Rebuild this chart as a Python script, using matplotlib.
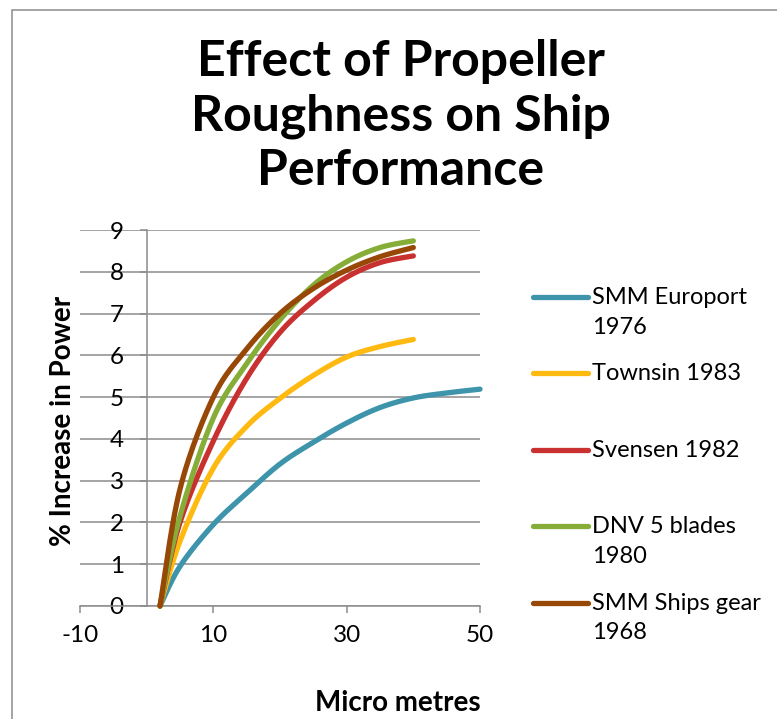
import numpy as np
import matplotlib
matplotlib.use("Agg")
import matplotlib.pyplot as plt
from matplotlib.patches import Rectangle
from matplotlib.legend_handler import HandlerLine2D

plt.rcParams['font.family'] = ['Lato', 'DejaVu Sans']

# Данные (микрометры, % прироста мощности)
x_short = [2, 5, 10, 15, 20, 25, 30, 35, 40]
x_long = [2, 5, 10, 15, 20, 25, 30, 35, 40, 45, 50]

europort = [0, 0.95, 1.95, 2.7, 3.4, 3.92, 4.38, 4.75, 4.98, 5.1, 5.19]
townsin = [0, 1.55, 3.3, 4.3, 4.97, 5.52, 5.96, 6.21, 6.38]
svensen = [0, 2.0, 3.95, 5.45, 6.55, 7.3, 7.87, 8.22, 8.38]
dnv = [0, 2.15, 4.5, 5.8, 6.85, 7.68, 8.24, 8.58, 8.74]
ships_gear = [0, 2.8, 5.0, 6.15, 7.0, 7.6, 8.04, 8.36, 8.58]

labels = ["SMM Europort\n1976", "Townsin 1983\n", "Svensen 1982\n",
          "DNV 5 blades\n1980", "SMM Ships gear\n1968"]
colors = ["#3D94AB", "#FFBA12", "#C8312F", "#86AD38", "#974706"]

x_ticks = [-10, 10, 30, 50]
y_ticks = list(range(10))


def smooth(xs, ys, n=25):
    # сглаживание как в Excel (кривые Безье через точки)
    p = np.column_stack([xs, ys]).astype(float)
    out = [p[0]]
    t = np.linspace(0, 1, n)[1:, None]
    for i in range(len(p) - 1):
        p0 = p[i - 1] if i > 0 else p[i]
        p1, p2 = p[i], p[i + 1]
        p3 = p[i + 2] if i + 2 < len(p) else p[i + 1]
        c1 = p1 + (p2 - p0) / 6
        c2 = p2 - (p3 - p1) / 6
        seg = ((1 - t) ** 3) * p1 + 3 * ((1 - t) ** 2) * t * c1 \
            + 3 * (1 - t) * t ** 2 * c2 + t ** 3 * p2
        out.extend(seg)
    out = np.array(out)
    return out[:, 0], out[:, 1]


class TopHandler(HandlerLine2D):
    # линия легенды на уровне первой строки подписи
    def create_artists(self, legend, orig_handle, xdescent, ydescent,
                       width, height, fontsize, trans):
        arts = super().create_artists(legend, orig_handle, xdescent, ydescent,
                                      width, height, fontsize, trans)
        for a in arts:
            a.set_ydata(np.asarray(a.get_ydata()) + 0.66 * fontsize)
        return arts


fig = plt.figure(figsize=(7.77, 7.19), dpi=100)
ax = fig.add_axes([80 / 777, 1 - 606 / 719, 400 / 777, 376 / 719])

gridc = "#8C8C8C"
series = [(x_long, europort), (x_short, townsin), (x_short, svensen),
          (x_short, dnv), (x_short, ships_gear)]
for (xs, ys), lab, c in zip(series, labels, colors):
    sx, sy = smooth(xs, ys)
    ax.plot(sx, sy, color=c, lw=3.8, label=lab, solid_capstyle='round',
            zorder=3, clip_on=False)

ax.set_xlim(-10, 50)
ax.set_ylim(0, 9)
ax.set_xticks(x_ticks)
ax.set_yticks(y_ticks)
ax.set_xticklabels([str(v) for v in x_ticks])
ax.set_yticklabels([str(v) for v in y_ticks])
ax.spines['left'].set_position(('data', 0))
ax.spines['top'].set_visible(False)
ax.spines['right'].set_visible(False)
for s in ['left', 'bottom']:
    ax.spines[s].set_color(gridc)
    ax.spines[s].set_linewidth(1.1)
ax.grid(axis='y', color=gridc, lw=1.1)
ax.set_axisbelow(True)
ax.tick_params(axis='both', direction='out', length=5, width=1.1,
               color=gridc, labelsize=17.5)
ax.tick_params(axis='y', pad=11.5)
ax.tick_params(axis='x', pad=9)

# Заголовок и подписи осей
fig.text(401 / 777, 1 - 116 / 719,
         "Effect of Propeller\nRoughness on Ship\nPerformance",
         ha='center', va='center', fontsize=36, fontweight='bold',
         linespacing=1.25)
fig.text(63 / 777, 1 - 421 / 719, "% Increase in Power", rotation=90,
         ha='center', va='center', fontsize=20, fontweight='bold')
fig.text(398 / 777, 1 - 703 / 719, "Micro metres",
         ha='center', va='center', fontsize=20, fontweight='bold')

leg = ax.legend(loc='upper left', bbox_to_anchor=(533 / 777, 1 - 287 / 719),
                bbox_transform=fig.transFigure, frameon=False, fontsize=17,
                handlelength=2.33, handletextpad=0.17, borderpad=0,
                borderaxespad=0, labelspacing=1.1,
                handler_map={matplotlib.lines.Line2D: TopHandler()})
for t in leg.get_texts():
    t.set_linespacing(1.5)

# Рамка диаграммы
fig.add_artist(Rectangle((12 / 777, -0.2), 1.5, 1.2 - 10 / 719,
                         transform=fig.transFigure, fill=False,
                         edgecolor=gridc, lw=1.1))

fig.savefig("out.png", dpi=100)
